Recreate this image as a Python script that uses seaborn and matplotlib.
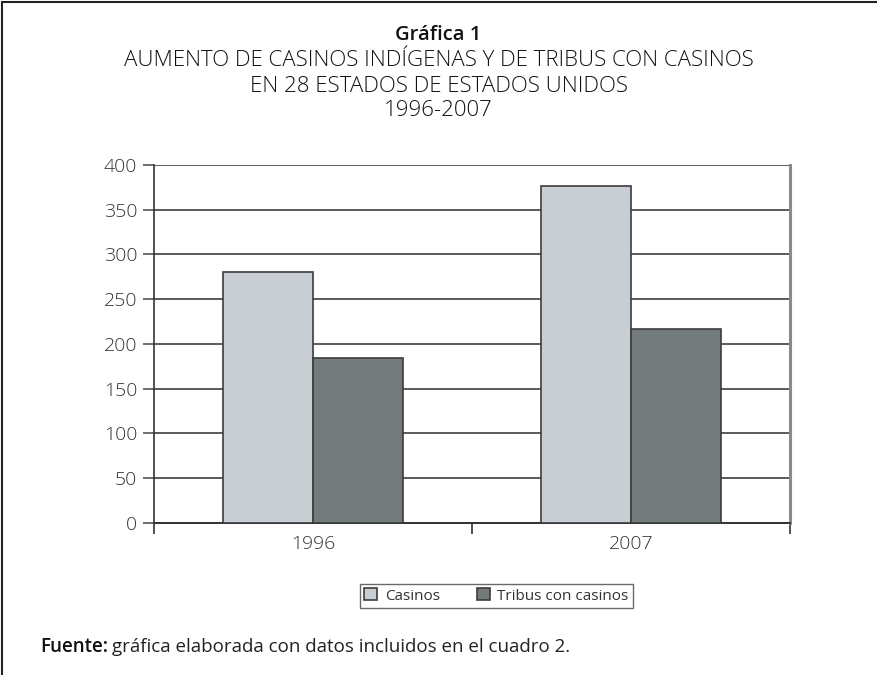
import matplotlib
matplotlib.use('Agg')
import matplotlib.pyplot as plt
from matplotlib.lines import Line2D
import pandas as pd
import seaborn as sns

years = ["1996", "2007"]
casinos = [280, 376]
tribus = [184, 217]
series_names = ["Casinos", "Tribus con casinos"]
y_ticks = [0, 50, 100, 150, 200, 250, 300, 350, 400]

df = pd.DataFrame({
    "year": years * 2,
    "value": casinos + tribus,
    "serie": [series_names[0]] * len(years) + [series_names[1]] * len(years),
})

sns.set_theme(style="white")
plt.rcParams['font.family'] = ['Open Sans', 'DejaVu Sans']

fig = plt.figure(figsize=(8.77, 6.75), dpi=100)
ax = fig.add_axes([0.1756, 0.2256, 0.7252, 0.53])

palette = {series_names[0]: "#c9cdd4", series_names[1]: "#727a7b"}
sns.barplot(data=df, x="year", y="value", hue="serie", palette=palette,
            width=0.566, edgecolor="#3c3c3c", linewidth=1.2, saturation=1,
            ax=ax, zorder=3)

ax.set_ylim(0, 400)
ax.set_xlim(-0.5, 1.5)
ax.set_yticks(y_ticks)
ax.yaxis.grid(True, color="#2e2e2e", linewidth=1.1, zorder=0)
ax.set_axisbelow(True)
ax.set_xlabel("")
ax.set_ylabel("")

ax.set_xticks([0, 1])
ax.set_xticks([-0.5, 0.5, 1.5], minor=True)
ax.tick_params(axis="x", which="major", length=0, pad=9, labelsize=14, colors="#333333")
ax.tick_params(axis="x", which="minor", length=8, width=1.2, direction="out", color="#333333", bottom=True)
ax.tick_params(axis="y", length=8, width=1.2, direction="out", color="#555555", left=True,
               labelsize=14, labelcolor="#333333", pad=4)
for lbl in ax.get_xticklabels() + ax.get_yticklabels():
    lbl.set_fontweight("light")

ax.spines["top"].set_visible(False)
ax.spines["left"].set_color("#333333")
ax.spines["left"].set_linewidth(1.2)
ax.spines["bottom"].set_color("#333333")
ax.spines["bottom"].set_linewidth(1.4)
ax.spines["right"].set_color("#8a8a8a")
ax.spines["right"].set_linewidth(2.2)

sns.move_legend(ax, "center", bbox_to_anchor=(496.5 / 877, 1 - 596 / 675),
                bbox_transform=fig.transFigure, ncol=2, frameon=True, title=None,
                fontsize=11, handlelength=0.85, handleheight=0.85, columnspacing=2.4,
                handletextpad=0.5, borderpad=0.3, fancybox=False)
leg = ax.get_legend()
leg.get_frame().set_edgecolor("#444444")
leg.get_frame().set_linewidth(1.0)
for t in leg.get_texts():
    t.set_color("#333333")

# titles
fig.text(0.5, 1 - 35 / 675, "Gráfica 1", ha="center", va="center", fontsize=14.5,
         fontweight="semibold", color="#111111")
for txt, ypix in [("AUMENTO DE CASINOS INDÍGENAS Y DE TRIBUS CON CASINOS", 61),
                  ("EN 28 ESTADOS DE ESTADOS UNIDOS", 86),
                  ("1996-2007", 111)]:
    fig.text(0.5, 1 - ypix / 675, txt, ha="center", va="center", fontsize=16,
             fontweight="light", color="#111111")

# source note
src = fig.text(40 / 877, 1 - 647 / 675, "Fuente:", ha="left", va="center",
               fontsize=13.5, fontweight="semibold", color="#111111")
fig.canvas.draw()
bb = src.get_window_extent()
fig.text(bb.x1 / 877 + 0.005, 1 - 647 / 675,
         "gráfica elaborada con datos incluidos en el cuadro 2.",
         ha="left", va="center", fontsize=13.5, color="#222222")

# outer frame (top and left)
fig.add_artist(Line2D([2 / 877, 1], [1 - 2 / 675, 1 - 2 / 675], transform=fig.transFigure,
                      color="#222222", linewidth=1.5))
fig.add_artist(Line2D([2 / 877, 2 / 877], [0, 1 - 2 / 675], transform=fig.transFigure,
                      color="#222222", linewidth=1.5))

fig.savefig("out.png", dpi=100, facecolor="white")
plt.close(fig)
